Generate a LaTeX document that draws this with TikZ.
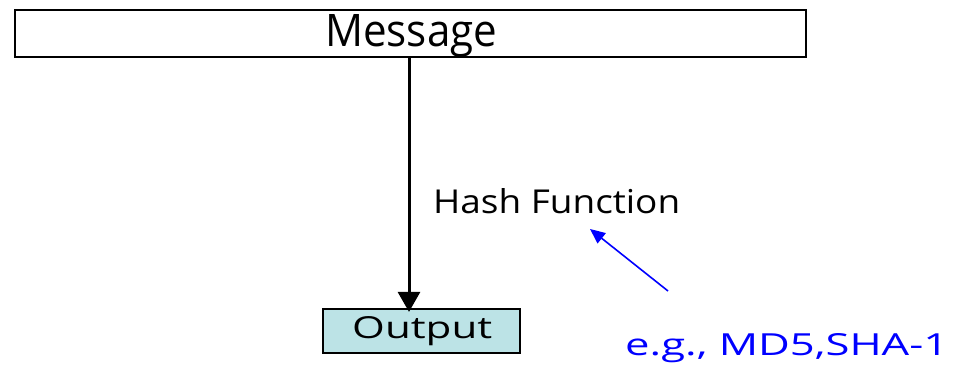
\documentclass[tikz,border=0pt]{standalone}
\usepackage{fontspec}
\setmainfont{Open Sans}
\usetikzlibrary{arrows.meta}
\definecolor{outfill}{RGB}{188,227,230}
% fit a text into a given width and height above baseline
\newcommand{\fitbox}[3]{\resizebox{#1}{#2}{#3}}
\tikzset{
  boxed/.style={draw=black, line width=2.2pt, inner sep=0pt},
  lbl/.style={inner sep=0pt, anchor=base west},
  mainarrow/.style={line width=3pt, -{Triangle[width=22pt,length=20pt]}},
  notearrow/.style={draw=blue, line width=1.6pt, -{Triangle[width=13pt,length=15pt]}}
}
\begin{document}
\begin{tikzpicture}[x=1pt,y=-1pt]
  \useasboundingbox (0,0) rectangle (961,374);
  % message bar and output box
  \node[boxed, minimum width=791pt, minimum height=47pt] (msg) at (410.5,33.5) {};
  \node[boxed, fill=outfill, minimum width=197pt, minimum height=44pt] (out) at (421.5,331) {};
  % texts
  \node[lbl] (msgtxt) at (325,47) {\fitbox{172pt}{32pt}{Message}};
  \node[lbl] (outtxt) at (352,338) {\fitbox{140pt}{22pt}{Output}};
  \node[lbl] (hash) at (433,214) {\fitbox{247pt}{25pt}{Hash Function}};
  \node[lbl, text=blue] (eg) at (625,355) {\fitbox{323pt}{22pt}{e.g., MD5,SHA-1}};
  % main flow
  \coordinate (axis) at (409,0);
  \draw[mainarrow] (msg.south -| axis) -- ([yshift=-4pt]out.north -| axis);
  % pointer to the function label
  \coordinate (ptail) at (668,291);
  \coordinate (ptip) at (590,229);
  \draw[notearrow] (ptail) -- (ptip);
\end{tikzpicture}
\end{document}
